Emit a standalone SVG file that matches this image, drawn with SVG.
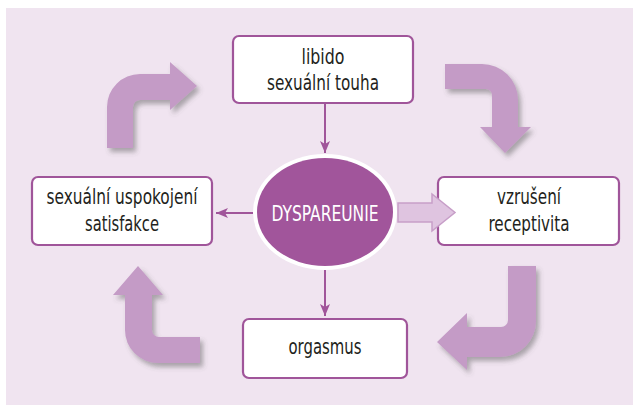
<svg xmlns="http://www.w3.org/2000/svg" width="635" height="407" viewBox="0 0 635 407">
<style>
.box{fill:#fff;stroke:#a0559a;stroke-width:2.2}
.lbl{font-family:"DejaVu Sans Condensed","DejaVu Sans","Liberation Sans",sans-serif;font-stretch:condensed;font-size:21px;fill:#231f20;text-anchor:middle}
.big{fill:#c49bc6;filter:url(#sh)}
.con{stroke:#a0559a;stroke-width:2;fill:none;marker-end:url(#ah)}
</style>
<defs>
<filter id="sh" x="-20%" y="-20%" width="150%" height="150%">
<feDropShadow dx="3" dy="4" stdDeviation="2.5" flood-color="#555" flood-opacity="0.45"/>
</filter>
<marker id="ah" viewBox="0 0 12 10" refX="12" refY="5" markerWidth="12" markerHeight="10" markerUnits="userSpaceOnUse" orient="auto">
<path d="M0,0 L12,5 L0,10 L3,5 Z" fill="#a0559a"/>
</marker>
</defs>
<rect x="6" y="8" width="627" height="397" fill="#f0e4f0"/>
<g id="cycle-arrows">
<path class="big" d="M107,148 L107,107 A33,33 0 0 1 140,74 L170,74 L170,62 L197,86 L170,110 L170,100 L140,100 A7,7 0 0 0 133,107 L133,148 Z"/>
<path class="big" d="M445,64 L482,64 A36,36 0 0 1 518,100 L518,127 L531,127 L505,153 L480,127 L492,127 L492,95 A6,6 0 0 0 486,89 L445,89 Z"/>
<path class="big" d="M508,266 L536,266 L536,321 A36,36 0 0 1 500,357 L467,357 L467,370 L437,342 L467,313 L467,327 L501,327 A7,7 0 0 0 508,320 Z"/>
<path class="big" d="M200,337 L200,363 L158,363 A33,33 0 0 1 125,330 L125,295 L113,295 L138,266 L163,295 L152,295 L152,330 A7,7 0 0 0 159,337 Z"/>
</g>
<g id="libido">
<rect class="box" x="233" y="36" width="180" height="67" rx="6"/>
<text class="lbl" x="323" y="64" textLength="43" lengthAdjust="spacingAndGlyphs">libido</text>
<text class="lbl" x="323" y="90" textLength="112" lengthAdjust="spacingAndGlyphs">sexuální touha</text>
</g>
<g id="satisfakce">
<rect class="box" x="32" y="177" width="180" height="68" rx="6"/>
<text class="lbl" x="122" y="204" textLength="151" lengthAdjust="spacingAndGlyphs">sexuální uspokojení</text>
<text class="lbl" x="122" y="231" textLength="74" lengthAdjust="spacingAndGlyphs">satisfakce</text>
</g>
<g id="vzruseni">
<rect class="box" x="438" y="177" width="181" height="68" rx="6"/>
<text class="lbl" x="529" y="204" textLength="64" lengthAdjust="spacingAndGlyphs">vzrušení</text>
<text class="lbl" x="529" y="231" textLength="81" lengthAdjust="spacingAndGlyphs">receptivita</text>
</g>
<g id="orgasmus">
<rect class="box" x="243" y="319" width="164" height="59" rx="6"/>
<text class="lbl" x="325" y="354" textLength="73" lengthAdjust="spacingAndGlyphs">orgasmus</text>
</g>
<g id="dyspareunie">
<ellipse cx="325" cy="212" rx="72" ry="58" fill="#fff"/>
<ellipse cx="325" cy="212" rx="68" ry="54" fill="#a1559b"/>
<text x="325" y="220.5" text-anchor="middle" font-family="DejaVu Sans Condensed,DejaVu Sans,Liberation Sans,sans-serif" font-stretch="condensed" font-size="21" fill="#fff" textLength="107" lengthAdjust="spacingAndGlyphs">DYSPAREUNIE</text>
</g>
<g id="connectors">
<line class="con" x1="325" y1="104" x2="325" y2="153"/>
<line class="con" x1="325" y1="270" x2="325" y2="316"/>
<line class="con" x1="253" y1="213" x2="216" y2="213"/>
<path d="M398,203 L432,203 L432,194 L455,212.5 L432,231 L432,222 L398,222 Z" fill="#dfc4e0" stroke="#c79ec8" stroke-width="1.5"/>
</g>
</svg>
